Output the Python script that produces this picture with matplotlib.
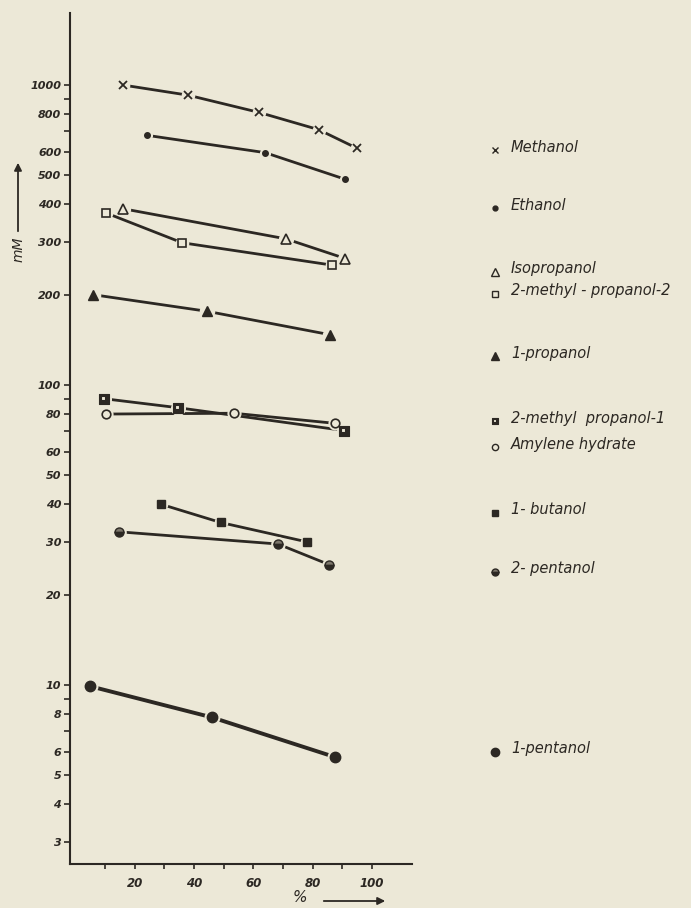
import matplotlib
matplotlib.use("Agg")
import matplotlib.pyplot as plt
from matplotlib.path import Path
from matplotlib.ticker import NullFormatter

# data (x in %, y in mM)
methanol_x = [16, 38, 62, 82, 95]
methanol_y = [1000, 925, 810, 710, 615]
ethanol_x = [24, 64, 91]
ethanol_y = [680, 595, 485]
isopropanol_x = [16, 71, 91]
isopropanol_y = [387, 307, 264]
mp2_x = [10.5, 36, 86.5]
mp2_y = [374, 298, 251]
propanol_x = [6, 44.5, 86]
propanol_y = [200, 176, 147]
mp1_x = [9.7, 34.6, 90.6]
mp1_y = [90, 84, 70.5]
amylene_x = [10.3, 53.5, 87.5]
amylene_y = [80, 80.5, 74.5]
butanol_x = [29, 49, 78]
butanol_y = [40, 34.8, 30]
pentanol2_x = [14.7, 68.3, 85.5]
pentanol2_y = [32.4, 29.5, 25.2]
pentanol1_x = [5, 46, 87.5]
pentanol1_y = [9.9, 7.8, 5.75]

y_major = [3, 4, 5, 6, 8, 10, 20, 30, 40, 50, 60, 80, 100, 200, 300, 400, 500, 600, 800, 1000]
y_minor = [7, 9, 70, 90, 700, 900]
x_major = [20, 40, 60, 80, 100]
x_minor = [10, 30, 50, 70, 90]

bg = '#ECE8D7'
ink = '#2C2823'

W, H = 691, 908
fig = plt.figure(figsize=(W / 100, H / 100), dpi=100, facecolor=bg)
ax = fig.add_axes([70 / W, 1 - 864 / H, 342 / W, 851 / H])
ax.set_facecolor(bg)

# half filled square marker: dark square with a light hole in the upper left
# (inner square runs the other way round so it is left open)
half_sq = Path(
    [(-1, -1), (1, -1), (1, 1), (-1, 1), (-1, -1),
     (-0.6, -0.15), (-0.6, 0.6), (0.2, 0.6), (0.2, -0.15), (-0.6, -0.15)],
    [Path.MOVETO, Path.LINETO, Path.LINETO, Path.LINETO, Path.CLOSEPOLY,
     Path.MOVETO, Path.LINETO, Path.LINETO, Path.LINETO, Path.CLOSEPOLY])

series = [
    (methanol_x, methanol_y, dict(marker='x', ms=5.8, mew=1.3, mfc=ink), 2.0),
    (ethanol_x, ethanol_y, dict(marker='o', ms=4.0, mfc=ink), 2.0),
    (isopropanol_x, isopropanol_y, dict(marker='^', ms=7, mew=1.2, mfc=bg), 2.0),
    (mp2_x, mp2_y, dict(marker='s', ms=5.8, mew=1.2, mfc=bg), 2.0),
    (propanol_x, propanol_y, dict(marker='^', ms=7.2, mfc=ink), 2.0),
    (mp1_x, mp1_y, dict(marker=half_sq, ms=6.8, mew=0.8, mfc=ink), 2.0),
    (amylene_x, amylene_y, dict(marker='o', ms=6.2, mew=1.2, mfc=bg), 2.0),
    (butanol_x, butanol_y, dict(marker='s', ms=5.8, mfc=ink), 2.0),
    (pentanol2_x, pentanol2_y, dict(marker='o', ms=6.5, mew=1, mfc='#7d776c',
                                    fillstyle='top', mfcalt=ink), 2.0),
    (pentanol1_x, pentanol1_y, dict(marker='o', ms=7.5, mfc=ink), 2.8),
]

for xs, ys, mk, lw in series:
    ax.plot(xs, ys, color=ink, lw=lw, zorder=2, solid_capstyle='butt')
    # small gap of paper round each point
    ax.plot(xs, ys, ls='none', marker='o', ms=mk['ms'] + 3, mfc=bg, mec=bg, zorder=3)
    ax.plot(xs, ys, ls='none', color=ink, mec=ink, zorder=4, **mk)

ax.set_yscale('log')
ax.set_xlim(-1.8, 113.5)
ax.set_ylim(2.53, 1738)
ax.set_yticks(y_major, labels=[str(v) for v in y_major])
ax.set_yticks(y_minor, minor=True)
ax.yaxis.set_minor_formatter(NullFormatter())
ax.set_xticks(x_major, labels=[str(v) for v in x_major])
ax.set_xticks(x_minor, minor=True)

for s in ['top', 'right']:
    ax.spines[s].set_visible(False)
for s in ['left', 'bottom']:
    ax.spines[s].set_color(ink)
    ax.spines[s].set_linewidth(1.5)

ax.tick_params(axis='y', which='both', direction='out', length=4.3, width=1.2,
               color=ink, pad=2)
ax.tick_params(axis='x', which='both', direction='out', length=3.5, width=1.2,
               color=ink, pad=6)
for lab in ax.get_xticklabels() + ax.get_yticklabels():
    lab.set_fontstyle('italic')
    lab.set_fontweight('bold')
    lab.set_fontsize(8)
    lab.set_color(ink)
for lab in ax.get_xticklabels():
    lab.set_fontsize(8.5)

# axis labels with arrows
fig.text(19 / W, 1 - 249 / H, 'mM', rotation=90, ha='center', va='center',
         fontsize=10, fontstyle='italic', color=ink)
fig.add_artist(matplotlib.patches.FancyArrowPatch(
    (18 / W, 1 - 234 / H), (18 / W, 1 - 160 / H), transform=fig.transFigure,
    arrowstyle='-|>', mutation_scale=11, lw=1.3, color=ink))
fig.text(300 / W, 1 - 898 / H, '%', ha='center', va='center',
         fontsize=11, fontstyle='italic', color=ink)
fig.add_artist(matplotlib.patches.FancyArrowPatch(
    (321 / W, 1 - 901 / H), (388 / W, 1 - 901 / H), transform=fig.transFigure,
    arrowstyle='-|>', mutation_scale=11, lw=1.3, color=ink))

# key on the right
labels = ['Methanol', 'Ethanol', 'Isopropanol', '2-methyl - propanol-2', '1-propanol',
          '2-methyl  propanol-1', 'Amylene hydrate', '1- butanol', '2- pentanol', '1-pentanol']
label_y = [147, 205, 269, 291, 353, 418, 444, 510, 569, 749]
key_ms = [4.5, 3.5, 5.5, 4.5, 6, 5, 4.5, 4.5, 5, 6]
for (xs, ys, mk, lw), lab, py, kms in zip(series, labels, label_y, key_ms):
    m = dict(mk)
    m['ms'] = kms
    if 'mew' in m:
        m['mew'] = min(m['mew'], 1.0)
    fig.add_artist(matplotlib.lines.Line2D([495 / W], [1 - (py + 3) / H], ls='none',
                                           color=ink, mec=ink, transform=fig.transFigure, **m))
    fig.text(511 / W, 1 - py / H, lab, ha='left', va='center', fontsize=10.5,
             fontstyle='italic', color=ink)

fig.savefig('out.png', dpi=100, facecolor=bg)
